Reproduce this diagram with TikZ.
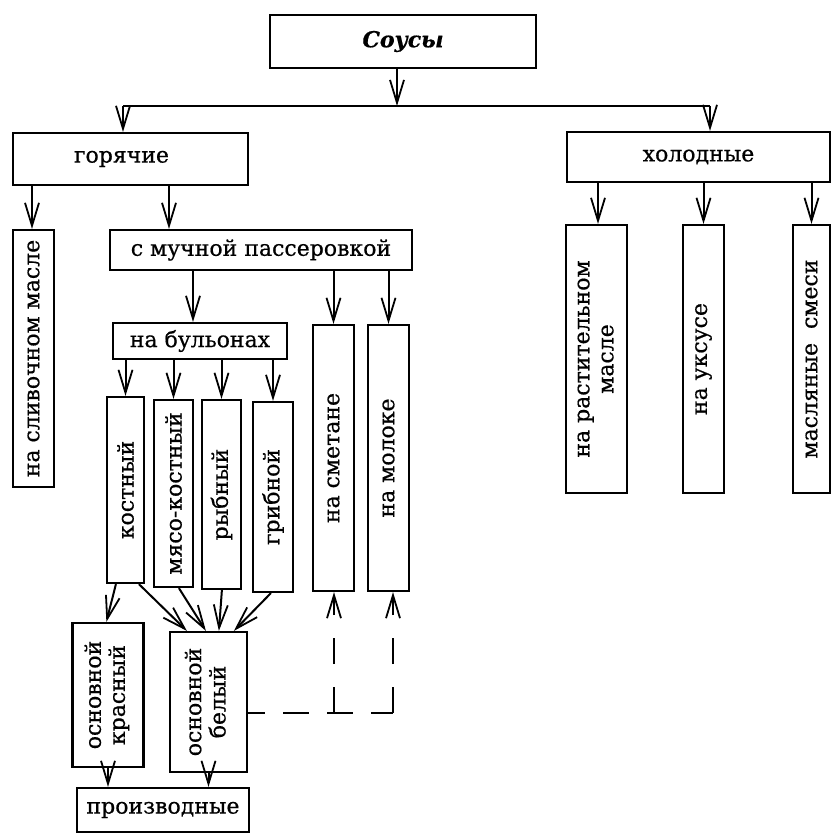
\documentclass[tikz,border=0pt]{standalone}
\usepackage{fontspec}
\setmainfont{DejaVu Serif}[FakeBold=0.6]
\usetikzlibrary{arrows.meta,calc}
\begin{document}
\begin{tikzpicture}[x=1pt,y=-1pt,
  box/.style={draw,line width=2.2pt,inner sep=0pt,font=\fontsize{22}{24}\selectfont},
  arr/.style={line width=2pt,-{Straight Barb[length=23pt,width=14pt,line width=1.8pt]}},
  ln/.style={line width=2.2pt},
  dsh/.style={line width=2.2pt,dash pattern=on 26pt off 18pt}]
\useasboundingbox (0,0) rectangle (831,840);
\fill[white] (0,0) rectangle (831,840);
% boxes
\node[box,minimum width=266pt,minimum height=53pt] (sousy) at (403,41.5) {\fontsize{22}{24}\selectfont\bfseries\itshape Соусы};
\node[box,minimum width=235pt,minimum height=52pt] (gor) at (130.5,159) {горячие\hspace*{18pt}};
\node[box,minimum width=263pt,minimum height=50pt] (hol) at (698.5,157) {холодные};
\node[box,minimum width=41pt,minimum height=257pt] (sliv) at (33.5,358.5) {\rotatebox{90}{на сливочном масле}};
\node[box,minimum width=302pt,minimum height=40pt] (much) at (261,250) {с мучной пассеровкой};
\node[box,minimum width=174pt,minimum height=36pt] (bul) at (200,341) {на бульонах};
\node[box,minimum width=41pt,minimum height=266pt] (smet) at (333.5,458) {\rotatebox{90}{на сметане}};
\node[box,minimum width=41pt,minimum height=266pt] (molok) at (388.5,458) {\rotatebox{90}{на молоке}};
\node[box,minimum width=37pt,minimum height=186pt] (kost) at (125.5,490) {\rotatebox{90}{костный}};
\node[box,minimum width=39pt,minimum height=187pt] (myaso) at (173.5,493.5) {\rotatebox{90}{мясо-костный}};
\node[box,minimum width=39pt,minimum height=189pt] (ryb) at (221.5,494.5) {\rotatebox{90}{рыбный}};
\node[box,minimum width=40pt,minimum height=190pt] (grib) at (273,497) {\rotatebox{90}{грибной}};
\node[box,minimum width=71pt,minimum height=144pt] (krasn) at (108,695) {\rotatebox{90}{\begin{tabular}{@{}c@{}}основной\\красный\end{tabular}}};
\node[box,minimum width=77pt,minimum height=140pt] (bel) at (208.5,702) {\rotatebox{90}{\begin{tabular}{@{}c@{}}основной\\белый\end{tabular}}};
\node[box,minimum width=172pt,minimum height=44pt] (proizv) at (163,810) {производные};
\node[box,minimum width=61pt,minimum height=268pt] (rast) at (596.5,359) {\rotatebox{90}{\begin{tabular}{@{}c@{}}на растительном\\масле\end{tabular}}};
\node[box,minimum width=41pt,minimum height=268pt] (uksus) at (703.5,359) {\rotatebox{90}{на уксусе}};
\node[box,minimum width=37pt,minimum height=268pt] (smesi) at (811.5,359) {\rotatebox{90}{масляные\ \ смеси}};
% helper coordinates
\coordinate (hl) at (123,106);
\coordinate (hr) at (710,106);
\coordinate (xs) at (397,0);
\coordinate (x32) at (32,0);
\coordinate (x169) at (169,0);
\coordinate (x598) at (598,0);
\coordinate (x193) at (193,0);
\coordinate (x393) at (393,0);
\coordinate (x334) at (334,0);
\coordinate (y713) at (0,713);
\coordinate (dr) at (x393 |- y713);
\coordinate (dm) at (x334 |- y713);
% connectors
\draw[arr] (sousy.south -| xs) -- (hl -| xs);
\draw[ln] (hl) -- (hr);
\draw[arr] (hl) -- (gor.north -| hl);
\draw[arr] (hr) -- (hol.north -| hr);
\draw[arr] (gor.south -| x32) -- (sliv.north -| x32);
\draw[arr] (gor.south -| x169) -- (much.north -| x169);
\draw[arr] (hol.south -| x598) -- (rast.north -| x598);
\draw[arr] (hol.south -| uksus) -- (uksus.north);
\draw[arr] (hol.south -| smesi) -- (smesi.north);
\draw[arr] (much.south -| x193) -- (bul.north -| x193);
\draw[arr] (much.south -| smet) -- (smet.north);
\draw[arr] (much.south -| molok) -- (molok.north);
\draw[arr] (bul.south -| kost) -- (kost.north);
\draw[arr] (bul.south -| myaso) -- (myaso.north);
\draw[arr] (bul.south -| ryb) -- (ryb.north);
\draw[arr] (bul.south -| grib) -- (grib.north);
\draw[arr] ([xshift=10pt]kost.south west) -- ([xshift=35pt]krasn.north west);
\draw[arr] ([xshift=33pt]kost.south west) -- ([xshift=18pt]bel.north west);
\draw[arr] ([xshift=26pt]myaso.south west) -- ([xshift=37pt]bel.north west);
\draw[arr] ([xshift=21pt]ryb.south west) -- ([xshift=50pt]bel.north west);
\draw[arr] ([xshift=19pt]grib.south west) -- ([xshift=65pt]bel.north west);
\draw[arr] (krasn.south) -- (proizv.north -| krasn);
\draw[arr] (bel.south) -- (proizv.north -| bel);
\draw[dsh,dash phase=9pt] (bel.east |- y713) -- (dr);
\draw[dsh,arr,dash pattern=on 26pt off 23pt] (dr) -- (molok.south -| dr);
\draw[dsh,arr,dash pattern=on 26pt off 23pt] (dm) -- (smet.south -| dm);
\end{tikzpicture}
\end{document}
